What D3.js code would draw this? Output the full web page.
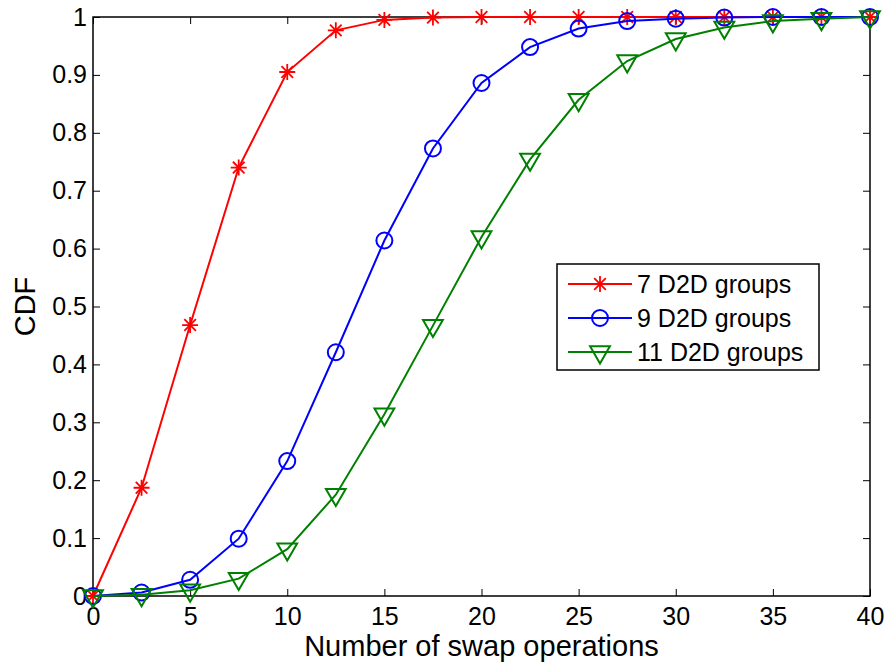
<!DOCTYPE html>
<html>
<head>
<meta charset="utf-8">
<script src="https://cdn.jsdelivr.net/npm/d3@7"></script>
<style>
  body { margin: 0; background: #fff; }
  svg { display: block; font-family: "Liberation Sans", Arial, sans-serif; }
</style>
</head>
<body>
<div id="chart"></div>
<script>
// swap operations on x, CDF on y
var xs = [0, 2.5, 5, 7.5, 10, 12.5, 15, 17.5, 20, 22.5, 25, 27.5, 30, 32.5, 35, 37.5, 40];
var cdf7  = [0, 0.187, 0.468, 0.740, 0.905, 0.977, 0.995, 0.999, 1, 1, 1, 1, 1, 1, 1, 1, 1];
var cdf9  = [0, 0.006, 0.028, 0.099, 0.233, 0.421, 0.614, 0.773, 0.886, 0.948, 0.980, 0.993, 0.997, 0.999, 1, 1, 1];
var cdf11 = [0, 0.002, 0.010, 0.030, 0.081, 0.175, 0.314, 0.467, 0.620, 0.754, 0.857, 0.924, 0.962, 0.982, 0.993, 0.997, 1];
var seriesNames = ["7 D2D groups", "9 D2D groups", "11 D2D groups"];
var xTicks = [0, 5, 10, 15, 20, 25, 30, 35, 40];
var yTicks = [0, 0.1, 0.2, 0.3, 0.4, 0.5, 0.6, 0.7, 0.8, 0.9, 1];

var series = [
  { name: seriesNames[0], values: cdf7,  color: "#ff0000", marker: "star" },
  { name: seriesNames[1], values: cdf9,  color: "#0000ff", marker: "circle" },
  { name: seriesNames[2], values: cdf11, color: "#008000", marker: "tri" }
];

var W = 890, H = 668;
var m = { left: 93, top: 17, right: 20, bottom: 72 };
var w = W - m.left - m.right, h = H - m.top - m.bottom;

var svg = d3.select("#chart").append("svg")
    .attr("width", W)
    .attr("height", H);
var g = svg.append("g")
    .attr("transform", "translate(" + m.left + "," + m.top + ")");

var x = d3.scaleLinear().domain([0, 40]).range([0, w]);
var y = d3.scaleLinear().domain([0, 1]).range([h, 0]);

var fmt = function(d){ return d === 0 || d === 1 ? String(d) : d3.format(".1f")(d); };

function styleAxis(sel){
    sel.select(".domain").remove();
    sel.selectAll(".tick line").attr("stroke", "#000").attr("stroke-width", 1);
    sel.selectAll(".tick text").attr("fill", "#000").style("font-size", "25px")
        .style("font-family", "Liberation Sans, Arial, sans-serif");
}

g.append("g")
    .attr("transform", "translate(0," + h + ")")
    .call(d3.axisBottom(x).tickValues(xTicks).tickSizeInner(-7).tickSizeOuter(0).tickPadding(11))
    .call(styleAxis);
g.append("g")
    .call(d3.axisTop(x).tickValues(xTicks).tickSizeInner(-7).tickSizeOuter(0).tickFormat(""))
    .call(styleAxis);
g.append("g")
    .call(d3.axisLeft(y).tickValues(yTicks).tickSizeInner(-7).tickSizeOuter(0).tickPadding(6).tickFormat(fmt))
    .call(styleAxis);
g.append("g")
    .attr("transform", "translate(" + w + ",0)")
    .call(d3.axisRight(y).tickValues(yTicks).tickSizeInner(-7).tickSizeOuter(0).tickFormat(""))
    .call(styleAxis);

g.append("rect")
    .attr("width", w).attr("height", h)
    .attr("fill", "none").attr("stroke", "#000").attr("stroke-width", 1.5);

var line = d3.line()
    .x(function(d){ return x(d[0]); })
    .y(function(d){ return y(d[1]); });

function drawMarker(sel, type, color){
    if (type === "star") {
        var r = 8, rd = 5.8;
        sel.append("path")
            .attr("d", "M" + (-r) + ",0H" + r + "M0," + (-r) + "V" + r +
                "M" + (-rd) + "," + (-rd) + "L" + rd + "," + rd +
                "M" + (-rd) + "," + rd + "L" + rd + "," + (-rd))
            .attr("stroke", color).attr("stroke-width", 1.8).attr("fill", "none");
    } else if (type === "circle") {
        sel.append("circle").attr("r", 8)
            .attr("stroke", color).attr("stroke-width", 2).attr("fill", "none");
    } else {
        sel.append("path")
            .attr("d", d3.symbol().type(d3.symbolTriangle).size(170)())
            .attr("transform", "rotate(180)")
            .attr("stroke", color).attr("stroke-width", 2).attr("fill", "none");
    }
}

series.forEach(function(s){
    var pts = xs.map(function(v, i){ return [v, s.values[i]]; });
    g.append("path")
        .datum(pts)
        .attr("d", line)
        .attr("fill", "none")
        .attr("stroke", s.color)
        .attr("stroke-width", 2);
    g.selectAll(null)
        .data(pts)
      .enter().append("g")
        .attr("transform", function(d){ return "translate(" + x(d[0]) + "," + y(d[1]) + ")"; })
        .each(function(){ drawMarker(d3.select(this), s.marker, s.color); });
});

// axis labels
svg.append("text")
    .attr("x", m.left + w / 2)
    .attr("y", 656)
    .attr("text-anchor", "middle")
    .style("font-size", "29px")
    .text("Number of swap operations");
svg.append("text")
    .attr("transform", "translate(35," + (m.top + h / 2) + ") rotate(-90)")
    .attr("text-anchor", "middle")
    .style("font-size", "29px")
    .text("CDF");

// legend
var lg = svg.append("g").attr("transform", "translate(557,264)");
lg.append("rect")
    .attr("width", 262).attr("height", 106)
    .attr("fill", "#fff").attr("stroke", "#000").attr("stroke-width", 1.5);
series.forEach(function(s, i){
    var row = lg.append("g").attr("transform", "translate(0," + (20 + i * 34) + ")");
    row.append("line")
        .attr("x1", 11).attr("x2", 75)
        .attr("stroke", s.color).attr("stroke-width", 2);
    drawMarker(row.append("g").attr("transform", "translate(43,0)"), s.marker, s.color);
    row.append("text")
        .attr("x", 80).attr("dy", "0.36em")
        .style("font-size", "25px")
        .text(s.name);
});
</script>
</body>
</html>
